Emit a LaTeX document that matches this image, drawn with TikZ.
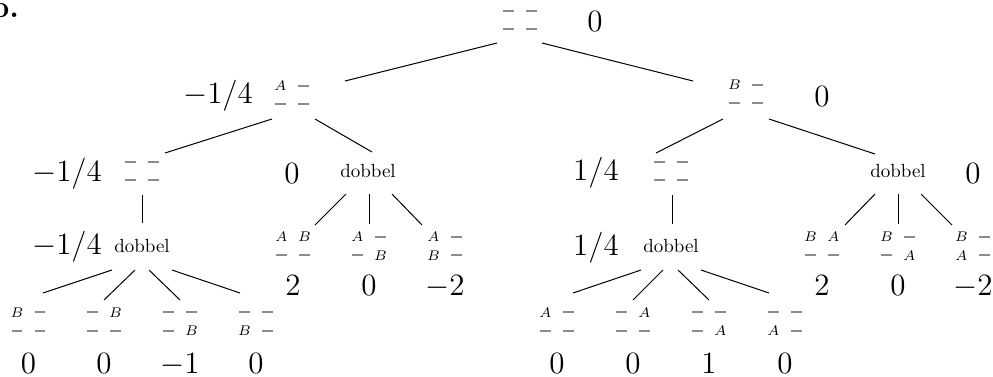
\documentclass[tikz,border=0pt]{standalone}
\usepackage{graphicx}
\usepackage{xcolor}
\definecolor{dashgray}{gray}{0.55}
\newcommand\bdD{\textcolor{dashgray}{\rule{5.5pt}{0.9pt}}}
\newcommand\bdA{$A$}
\newcommand\bdB{$B$}
\newcommand\vv[1]{\scalebox{1.076}{$#1$}}
\tikzset{
  bpt/.style={inner sep=0pt,outer sep=0pt,minimum size=0pt},
  cell/.style={inner sep=0pt,font=\fontsize{7.3}{8}\selectfont},
  val/.style={inner sep=0pt,anchor=base,font=\fontsize{14.4}{17}\selectfont},
  dob/.style={inner sep=0pt,anchor=base,font=\fontsize{9.5}{11}\selectfont},
  edge/.style={line width=0.5pt,black}
}
\newcommand\brd[7]{%
  \node[bpt] (#1) at (#2,#3) {};
  \node[cell] (#1a) at ([shift={(-11.5,-9.25)}]#1.center) {#4};
  \node[cell] (#1b) at ([shift={(11.5,-9.25)}]#1.center) {#5};
  \node[cell] (#1c) at ([shift={(-11.5,9.25)}]#1.center) {#6};
  \node[cell] (#1d) at ([shift={(11.5,9.25)}]#1.center) {#7};
}
\newcommand\edg[6]{\draw[edge] ([shift={(#2,#3)}]#1) -- ([shift={(#5,#6)}]#4);}
\begin{document}
\begin{tikzpicture}[x=0.5pt,y=-0.5pt]
\useasboundingbox (0,0) rectangle (993,376);
\node[anchor=base west,inner sep=0pt,font=\bfseries\fontsize{14.4}{17}\selectfont] (lbl) at (-10.4,17) {\scalebox{1.076}{b.}};
% boards
\brd{R}{520}{20}{\bdD}{\bdD}{\bdD}{\bdD}
\brd{Aa}{292}{95}{\bdA}{\bdD}{\bdD}{\bdD}
\brd{Bb}{746}{94}{\bdB}{\bdD}{\bdD}{\bdD}
\brd{LL}{142}{171}{\bdD}{\bdD}{\bdD}{\bdD}
\brd{RL}{671}{171}{\bdD}{\bdD}{\bdD}{\bdD}
\brd{La}{293}{246}{\bdA}{\bdB}{\bdD}{\bdD}
\brd{Lb}{369}{246}{\bdA}{\bdD}{\bdD}{\bdB}
\brd{Lc}{445}{246}{\bdA}{\bdD}{\bdB}{\bdD}
\brd{Ra}{822}{246}{\bdB}{\bdA}{\bdD}{\bdD}
\brd{Rb}{898}{246}{\bdB}{\bdD}{\bdD}{\bdA}
\brd{Rc}{973}{246}{\bdB}{\bdD}{\bdA}{\bdD}
\brd{Fa}{28.5}{321.5}{\bdB}{\bdD}{\bdD}{\bdD}
\brd{Fb}{104}{321.5}{\bdD}{\bdB}{\bdD}{\bdD}
\brd{Fc}{180}{321.5}{\bdD}{\bdD}{\bdD}{\bdB}
\brd{Fd}{256}{321.5}{\bdD}{\bdD}{\bdB}{\bdD}
\brd{Ga}{557}{321.5}{\bdA}{\bdD}{\bdD}{\bdD}
\brd{Gb}{633}{321.5}{\bdD}{\bdA}{\bdD}{\bdD}
\brd{Gc}{709}{321.5}{\bdD}{\bdD}{\bdD}{\bdA}
\brd{Gd}{785}{321.5}{\bdD}{\bdD}{\bdA}{\bdD}
% dobbel nodes
\node[dob] (LRd) at (368,177) {dobbel};
\node[dob] (RRd) at (898,177.5) {dobbel};
\node[dob] (LLd) at (142,252.5) {dobbel};
\node[dob] (RLd) at (671,252.5) {dobbel};
% values
\node[val] (vR) at (595,31.5) {\vv{0}};
\node[val] (vAa) at (218,103) {\vv{-1/4}};
\node[val] (vBb) at (822,106.5) {\vv{0}};
\node[val] (vLL) at (67,181) {\vv{-1/4}};
\node[val] (vLLd) at (67,254) {\vv{-1/4}};
\node[val] (vLR) at (292,183) {\vv{0}};
\node[val] (vRL) at (596,180) {\vv{1/4}};
\node[val] (vRLd) at (596,255) {\vv{1/4}};
\node[val] (vRR) at (973,183) {\vv{0}};
\node[val] (vLa) at (293,295) {\vv{2}};
\node[val] (vLb) at (369,295) {\vv{0}};
\node[val] (vLc) at (445,295) {\vv{-2}};
\node[val] (vRa) at (822,295) {\vv{2}};
\node[val] (vRb) at (898,295) {\vv{0}};
\node[val] (vRc) at (973,295) {\vv{-2}};
\node[val] (vFa) at (28.5,373) {\vv{0}};
\node[val] (vFb) at (104,373) {\vv{0}};
\node[val] (vFc) at (180,373) {\vv{-1}};
\node[val] (vFd) at (256,373) {\vv{0}};
\node[val] (vGa) at (557,373) {\vv{0}};
\node[val] (vGb) at (633,373) {\vv{0}};
\node[val] (vGc) at (709,373) {\vv{1}};
\node[val] (vGd) at (785,373) {\vv{0}};
% edges
\edg{R.center}{-23}{23}{Aa.center}{53}{-14}
\edg{R.center}{22}{23}{Bb.center}{-53}{-13}
\edg{Aa.center}{-20}{24}{LL.center}{23}{-18}
\edg{Aa.center}{23}{24}{LRd.base}{4}{-25}
\edg{Bb.center}{-23}{25}{RL.center}{-15}{-18}
\edg{Bb.center}{23}{25}{RRd.base}{-23}{-23.5}
\edg{LL.center}{0}{24}{LLd.base}{0}{-29.5}
\edg{RL.center}{1}{24}{RLd.base}{1}{-28.5}
\edg{LRd.base}{-22}{17}{La.center}{22}{-21}
\edg{LRd.base}{1}{17}{Lb.center}{0}{-22}
\edg{LRd.base}{24}{17}{Lc.center}{-23}{-21}
\edg{RRd.base}{-23}{16.5}{Ra.center}{23}{-21}
\edg{RRd.base}{0}{16.5}{Rb.center}{0}{-22}
\edg{RRd.base}{23}{16.5}{Rc.center}{-21}{-21}
\edg{LLd.base}{-30}{17.5}{Fa.center}{14.5}{-28.5}
\edg{LLd.base}{-7}{17.5}{Fb.center}{0}{-21.5}
\edg{LLd.base}{7}{17.5}{Fc.center}{0}{-21.5}
\edg{LLd.base}{30}{17.5}{Fd.center}{-16}{-28.5}
\edg{RLd.base}{-30}{17.5}{Ga.center}{16}{-28.5}
\edg{RLd.base}{-8}{17.5}{Gb.center}{0}{-21.5}
\edg{RLd.base}{7}{17.5}{Gc.center}{0}{-21.5}
\edg{RLd.base}{30}{17.5}{Gd.center}{-16}{-28.5}
\end{tikzpicture}
\end{document}
